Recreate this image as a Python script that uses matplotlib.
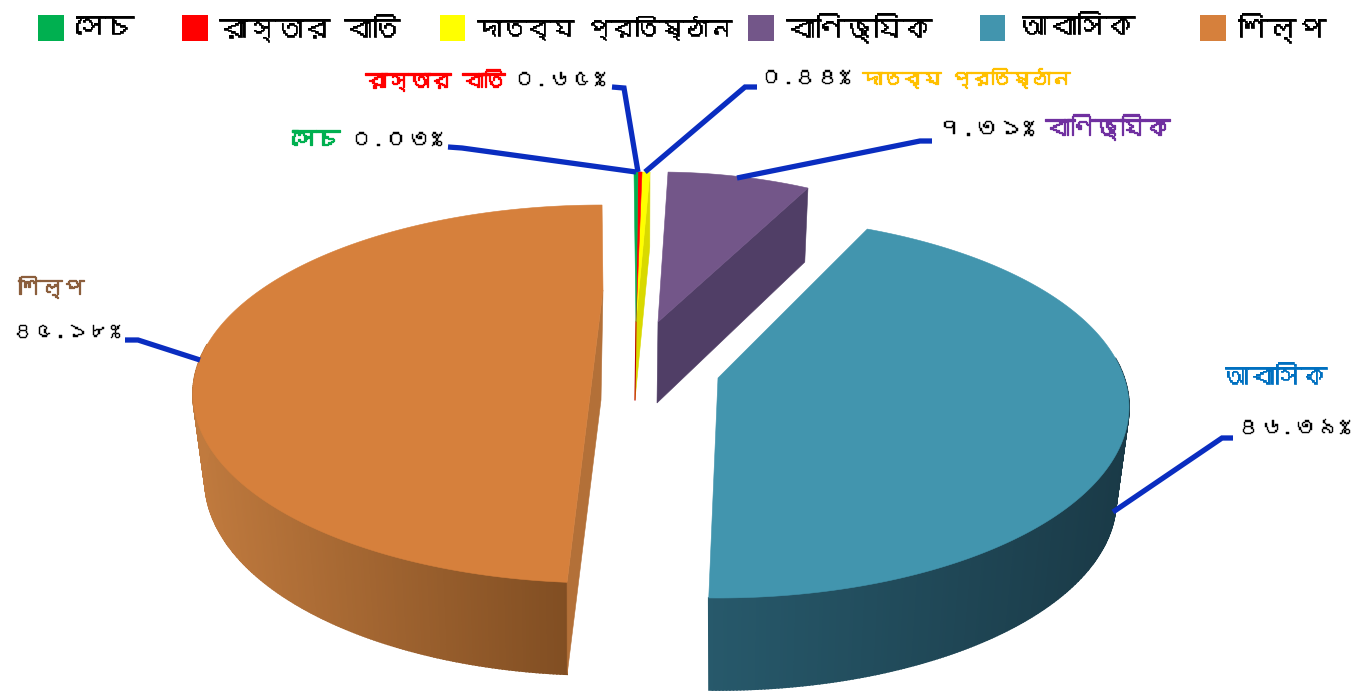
import warnings, logging
import numpy as np
import matplotlib
matplotlib.use("Agg")
import matplotlib.pyplot as plt
import matplotlib.patheffects as pe
from matplotlib import font_manager as fm
from matplotlib.ft2font import FT2Font
from matplotlib.patches import Polygon, Rectangle

# ---- data ----
categories = ["সেচ", "রাস্তার বাতি", "দাতব্য প্রতিষ্ঠান", "বাণিজ্যিক", "আবাসিক", "শিল্প"]
values = [0.03, 0.65, 0.44, 7.31, 46.39, 45.18]
top_colors = ["#00B050", "#FF0000", "#FFFF00", "#735689", "#4295AE", "#D6803C"]
name_colors = ["#00B050", "#FF0000", "#FFC000", "#7030A0", "#0070C0", "#8B5E3C"]

# ---- font: any installed family that covers Bengali ----
def find_bengali():
    for f in fm.fontManager.ttflist:
        try:
            cm = FT2Font(f.fname).get_charmap()
        except Exception:
            continue
        if 0x09B8 in cm and 0x09E6 in cm:
            return f.name
    return None
beng = find_bengali()
families = ([beng] if beng else []) + ["Noto Sans", "DejaVu Sans"]
plt.rcParams["font.family"] = families
plt.rcParams["text.hinting"] = "no_hinting"
logging.getLogger("matplotlib.font_manager").setLevel(logging.ERROR)
warnings.filterwarnings("ignore")

B_DIGITS = str.maketrans("0123456789", "০১২৩৪৫৬৭৮৯")
def pct(v):
    return f"{v:.2f}".translate(B_DIGITS) + "%"

fig = plt.figure(figsize=(13.57, 6.93), dpi=100)
ax = fig.add_axes([0, 0, 1, 1])
ax.set_xlim(0, 1357)
ax.set_ylim(693, 0)
ax.axis("off")
renderer = fig.canvas.get_renderer()

# ---- per-slice view geometry (style only): the angles come from values ----
geom = [
    dict(t=(636, 405, 411, 233), b=(636, 480, 405, 233), a=(636, 322), la=(635, 400), s=-0.28, k=5.1),
    dict(t=(636, 405, 411, 233), b=(636, 480, 405, 233), a=(636, 322), la=(635, 400), s=0.28, k=0.24),
    dict(t=(636, 405, 411, 233), b=(636, 480, 405, 233), a=(636, 322), la=(635, 400), s=0.84, k=0.70),
    dict(t=(658, 405, 411, 233), b=(657, 479, 405, 233), a=(658, 322), la=(657, 403), s=1.4, k=0.76),
    dict(t=(718, 407, 411, 191), b=(718, 500, 398, 190), a=(718, 378), la=(717, 470), s=21.3, k=0.958),
    dict(t=(602, 394, 409, 189), b=(601, 480, 396, 195), a=(603, 290), la=(601, 400), s=184.9, k=1.0766),
]
rim_dark = {4: ("#27596B", "#1A3A47"), 5: ("#C07A3E", "#7B4A20")}
rim_span = {4: (75, 400), 5: (0, 285)}   # only the part of the rim facing the viewer
wall = {2: "#D9D900", 3: "#503E66", 5: "#B37038"}

def ell(e, ang):
    r = np.radians(ang)
    return np.column_stack([e[0] + e[2] * np.sin(r), e[1] - e[3] * np.cos(r)])

def hexmix(c0, c1, t):
    a, b = np.array(matplotlib.colors.to_rgb(c0)), np.array(matplotlib.colors.to_rgb(c1))
    return a + (b - a) * t

for i in [5, 4, 3, 2, 1, 0]:
    g = geom[i]
    sweep = values[i] / 100 * 360 * g["k"]
    ang = np.linspace(g["s"], g["s"] + sweep, max(3, int(abs(sweep) * 2)))
    up, lo = ell(g["t"], ang), ell(g["b"], ang)
    if i in rim_dark:
        c0, c1 = rim_dark[i]
        xs = up[:, 0]
        x0, x1 = xs.min(), xs.max()
        lo_a, hi_a = rim_span[i]
        for j in range(len(ang) - 1):
            if not (lo_a <= ang[j] <= hi_a):
                continue
            col = hexmix(c0, c1, (xs[j] - x0) / (x1 - x0))
            ax.add_patch(Polygon([up[j], up[j + 1], lo[j + 1], lo[j]], closed=True,
                                 fc=col, ec=col, lw=1.2, zorder=2 + i * 0.01))
    if i in wall:
        q = [g["a"], up[0], lo[0], g["la"]] if i == 5 else [g["a"], up[-1], lo[-1], g["la"]]
        ax.add_patch(Polygon(q, closed=True, fc=wall[i], ec=wall[i], lw=0.4, zorder=3))
    ax.add_patch(Polygon(np.vstack([[g["a"]], up]), closed=True, fc=top_colors[i],
                         ec=top_colors[i], lw=0.4, zorder=4))

g0 = geom[0]
ax.plot([g0["a"][0], g0["la"][0]], [g0["a"][1], g0["la"][1]], color="#C00000", lw=0.8, zorder=3.5)

# ---- leader lines ----
leaders = [
    [(448, 147), (462, 148), (636, 172)],
    [(612, 87), (624, 88), (638, 172)],
    [(757, 87), (745, 87), (645, 172)],
    [(932, 141), (920, 141), (737, 178)],
    [(1233, 438), (1222, 438), (1113, 512)],
    [(125, 340), (138, 340), (200, 360)],
]
for pts in leaders:
    xs, ys = zip(*pts)
    ax.plot(xs, ys, color="#0A2DC0", lw=3.8, solid_joinstyle="miter", solid_capstyle="butt", zorder=6)

# ---- text fitted to a left/right extent, never larger than a cap ----
def fit(s, x0, x1, y, color="black", heavy=0.0, size0=24, cap=21):
    t = ax.text(x0, y, s, fontsize=size0, color=color, va="center", ha="left", zorder=7)
    w = t.get_window_extent(renderer).width
    t.set_fontsize(min(cap, size0 * (x1 - x0) / w))
    if heavy:
        t.set_path_effects([pe.withStroke(linewidth=heavy, foreground=color)])
    return t

# ---- legend ----
sq_x = [(38, 64), (182, 208), (440, 465), (748, 774), (980, 1005), (1200, 1226)]
txt_x = [(76, 140), (219, 400), (477, 732), (786, 960), (1018, 1170), (1238, 1330)]
for (a, b), (t0, t1), c, name in zip(sq_x, txt_x, top_colors, categories):
    ax.add_patch(Rectangle((a, 15), b - a, 26, fc=c, ec="none", zorder=5))
    fit(name, t0, t1, 28, heavy=0.5)

# ---- labels ----
fit(categories[0], 292, 340, 140, name_colors[0], heavy=0.9)
fit(pct(values[0]), 350, 442, 140, heavy=0.3)
fit(categories[1], 365, 505, 80, name_colors[1], heavy=0.9)
fit(pct(values[1]), 513, 605, 80, heavy=0.3)
fit(pct(values[2]), 760, 850, 78, heavy=0.3)
fit(categories[2], 862, 1070, 78, name_colors[2], heavy=0.9)
fit(pct(values[3]), 938, 1034, 129, heavy=0.3)
fit(categories[3], 1045, 1170, 127, name_colors[3], heavy=0.9)
fit(categories[4], 1222, 1327, 378, name_colors[4], heavy=0.5)
fit(pct(values[4]), 1237, 1350, 428, heavy=0.3)
fit(categories[5], 18, 84, 287, name_colors[5], heavy=0.9)
fit(pct(values[5]), 12, 120, 332, heavy=0.3)

fig.savefig("out.png", dpi=100, facecolor="white")
